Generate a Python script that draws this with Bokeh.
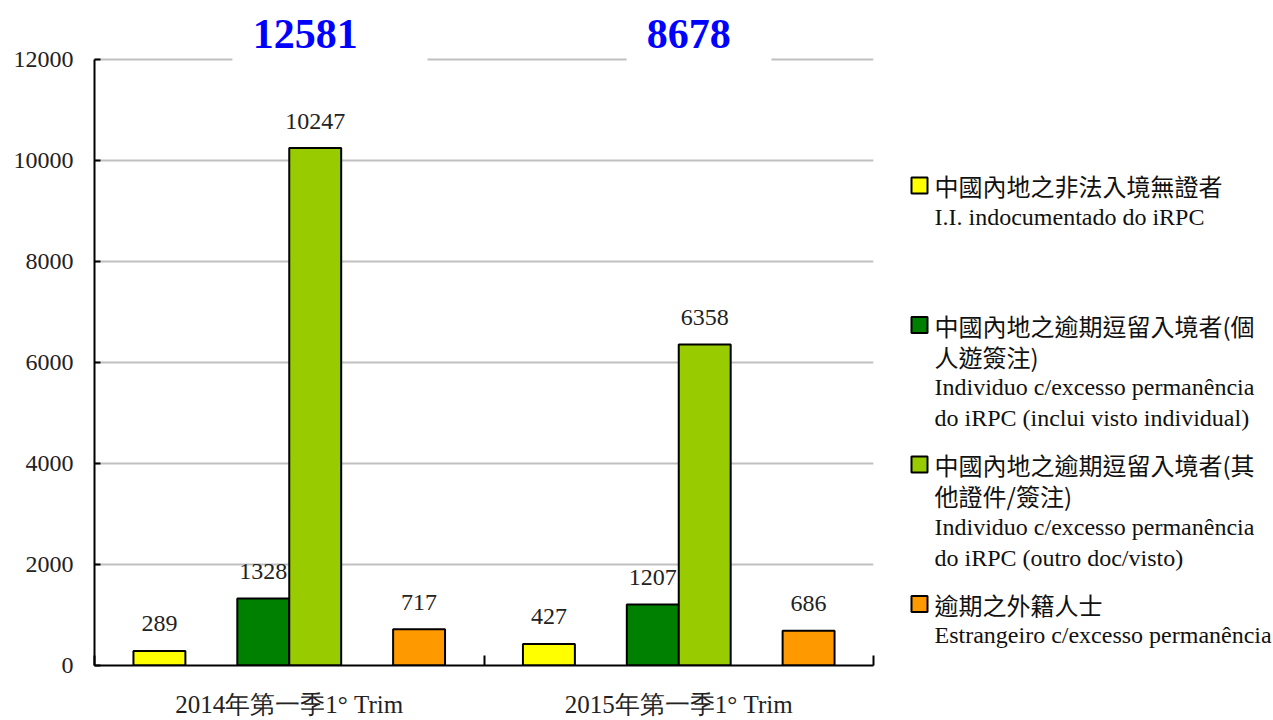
from bokeh.plotting import figure
from bokeh.models import Range1d, FixedTicker, ColumnDataSource, LabelSet, Label, BoxAnnotation
from bokeh.layouts import row
from bokeh.embed import file_html
from bokeh.resources import INLINE
from bokeh.core.properties import value

# ---------------- data ----------------
periods = ["2014年第一季1° Trim", "2015年第一季1° Trim"]
totals = [12581, 8678]
illegal_entrants = [289, 427]
overstay_individual_visit = [1328, 1207]
overstay_other_docs = [10247, 6358]
overstay_foreigners = [717, 686]
series_values = [illegal_entrants, overstay_individual_visit, overstay_other_docs, overstay_foreigners]
series_colors = ["#FFFF00", "#008000", "#99CC00", "#FF9900"]
legend_lines = [
    ["中國內地之非法入境無證者", "I.I. indocumentado do iRPC"],
    ["中國內地之逾期逗留入境者(個", "人遊簽注)", "Individuo c/excesso permanência", "do iRPC (inclui visto individual)"],
    ["中國內地之逾期逗留入境者(其", "他證件/簽注)", "Individuo c/excesso permanência", "do iRPC (outro doc/visto)"],
    ["逾期之外籍人士", "Estrangeiro c/excesso permanência"],
]
y_ticks = [0, 2000, 4000, 6000, 8000, 10000, 12000]

# ---------------- layout helpers ----------------
SERIF = "Liberation Serif"
SLOT = 2 / 15                 # width of one bar slot (6 slots per group)
GROUP_GAP = 0.1
series_slots = [0, 2, 3, 5]   # slots 1 and 4 are empty in the original

FRAME_TOP_PX = 0              # frame starts at top of figure
AXIS_TOP_PX = 59              # where 12000 lies
AXIS_BOTTOM_PX = 665          # where 0 lies
Y_AXIS_MAX = max(y_ticks)
Y_RANGE_MAX = Y_AXIS_MAX * (AXIS_BOTTOM_PX - FRAME_TOP_PX) / (AXIS_BOTTOM_PX - AXIS_TOP_PX)
FIG_H = 720


def slot_center(k):
    return GROUP_GAP + (k + 0.5) * SLOT


p = figure(width=890, height=FIG_H, x_range=Range1d(0, len(periods)), y_range=Range1d(0, Y_RANGE_MAX),
           output_backend="svg", toolbar_location=None,
           min_border_left=94, min_border_right=17, min_border_top=FRAME_TOP_PX,
           min_border_bottom=FIG_H - AXIS_BOTTOM_PX)
p.outline_line_color = None
p.background_fill_color = "white"
p.xgrid.grid_line_color = None
p.ygrid.grid_line_color = "#C0C0C0"
p.ygrid.grid_line_width = 2

# y axis
p.yaxis.ticker = FixedTicker(ticks=y_ticks)
p.yaxis.bounds = (0, Y_AXIS_MAX)
p.yaxis.axis_line_color = "black"
p.yaxis.axis_line_width = 2
p.yaxis.major_tick_in = 6
p.yaxis.major_tick_out = 0
p.yaxis.major_tick_line_width = 2
p.yaxis.minor_tick_line_color = None
p.yaxis.major_label_text_font = SERIF
p.yaxis.major_label_text_font_size = "24px"
p.yaxis.major_label_text_color = "#222222"
p.yaxis.major_label_standoff = 21

# x axis: labels at group centres, ticks at group borders
centers = [i + 0.5 for i in range(len(periods))]
p.xaxis.ticker = FixedTicker(ticks=centers, minor_ticks=list(range(len(periods) + 1)))
p.xaxis.major_label_overrides = {c: lab for c, lab in zip(centers, periods)}
p.xaxis.major_tick_line_color = None
p.xaxis.major_tick_in = 0
p.xaxis.major_tick_out = 0
p.xaxis.minor_tick_in = 10
p.xaxis.minor_tick_out = 0
p.xaxis.minor_tick_line_color = "black"
p.xaxis.minor_tick_line_width = 2
p.xaxis.axis_line_color = "black"
p.xaxis.axis_line_width = 2
p.xaxis.major_label_text_font = SERIF
p.xaxis.major_label_text_font_size = "25px"
p.xaxis.major_label_text_color = "#222222"
p.xaxis.major_label_standoff = 25

# bars + value labels
for vals, color, slot in zip(series_values, series_colors, series_slots):
    src = ColumnDataSource(dict(
        x=[i + slot_center(slot) for i in range(len(periods))],
        top=vals,
        label=[str(v) for v in vals],
    ))
    p.vbar(x="x", top="top", width=SLOT, source=src, fill_color=color,
           line_color="black", line_width=2)
    p.add_layout(LabelSet(x="x", y="top", text="label", source=src, y_offset=27,
                          text_align="center", text_baseline="middle",
                          text_font=value(SERIF), text_font_size="24px", text_color="#222222"))

# totals above each group, with white boxes breaking the top gridline
title_boxes = [(0.354, 0.855), (1.366, 1.738)]
title_x_offsets = [16, 10]
for i, (tot, (l, r), xo) in enumerate(zip(totals, title_boxes, title_x_offsets)):
    p.add_layout(BoxAnnotation(left=l, right=r, bottom=Y_AXIS_MAX - 150, top=Y_AXIS_MAX + 150,
                               fill_color="white", fill_alpha=1.0, line_color=None))
    p.add_layout(Label(x=i + 0.5, y=Y_AXIS_MAX, x_offset=xo, y_offset=26, text=str(tot),
                       text_align="center", text_baseline="middle",
                       text_font=SERIF, text_font_size="42px", text_font_style="bold",
                       text_color="#0000FF"))

# ---------------- legend (separate panel; its frame aligns with the chart frame) ----------------
LW = 383
lp = figure(width=LW, height=FIG_H, x_range=Range1d(0, LW), y_range=Range1d(AXIS_BOTTOM_PX, 0),
            output_backend="svg", toolbar_location=None, min_border=0,
            min_border_bottom=FIG_H - AXIS_BOTTOM_PX,
            x_axis_type=None, y_axis_type=None)
lp.outline_line_color = None
lp.grid.visible = False

ITEM_TOP, ITEM_STEP, LINE_STEP = 185, 139.5, 31
MARK_X, TEXT_X = 29, 44
item_y = [ITEM_TOP + k * ITEM_STEP for k in range(len(legend_lines))]
lp.scatter(x=[MARK_X] * len(item_y), y=item_y, marker="square", size=16,
           fill_color=series_colors, line_color="black", line_width=2)

tx, ty, tt, tf = [], [], [], []
for k, lines in enumerate(legend_lines):
    for j, line in enumerate(lines):
        tx.append(TEXT_X)
        ty.append(item_y[k] + j * LINE_STEP)
        tt.append(line)
        is_cjk = any(ord(ch) > 0x2E80 for ch in line)
        tf.append("Noto Sans CJK TC" if is_cjk else SERIF)
lsrc = ColumnDataSource(dict(x=tx, y=ty, text=tt, font=tf))
lp.text(x="x", y="y", text="text", source=lsrc, text_font="font", text_font_size="24px",
        text_baseline="middle", text_align="left", text_color="#111111")

layout = row(p, lp)
open("out.html", "w").write(file_html(layout, INLINE))
